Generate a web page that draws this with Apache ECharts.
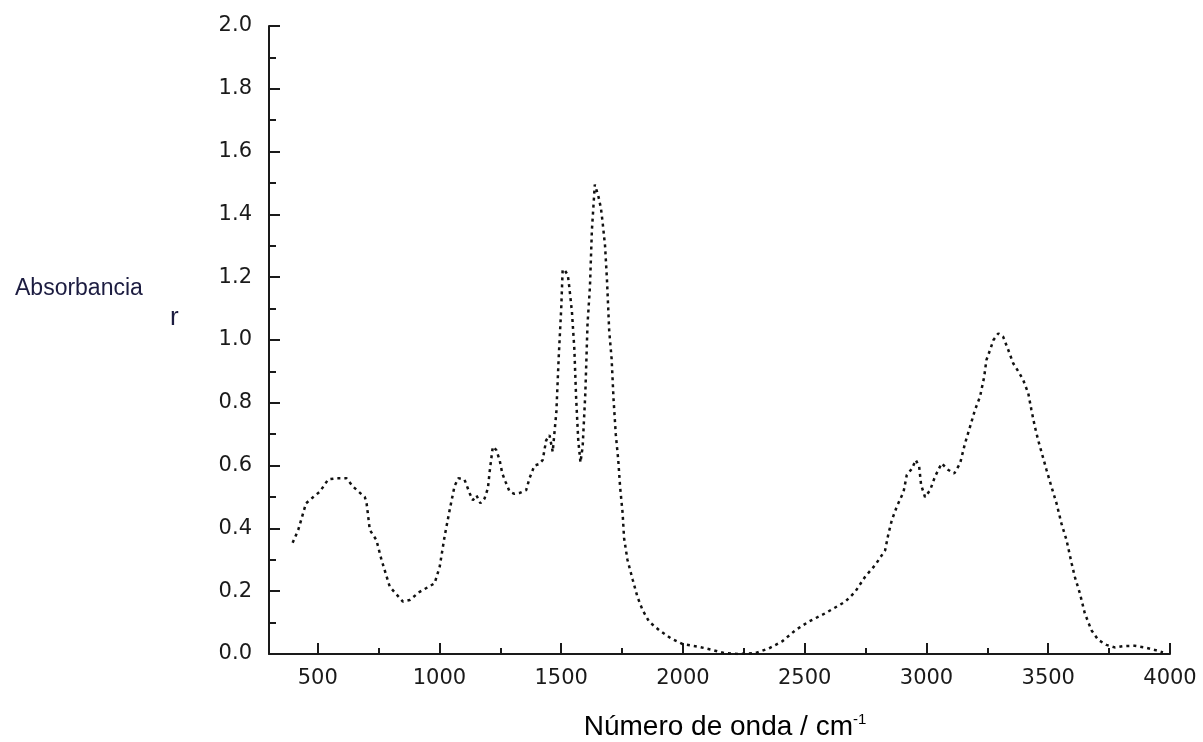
<!DOCTYPE html>
<html>
<head>
<meta charset="utf-8">
<script src="https://cdn.jsdelivr.net/npm/echarts@6/dist/echarts.min.js"></script>
<style>
  html, body { margin: 0; padding: 0; background: #fff; }
  #chart { width: 1203px; height: 742px; }
</style>
</head>
<body>
<div id="chart"></div>
<script>
// espectro IR
const wavenumber = [
  397, 420, 452, 482, 509, 543, 580, 618, 645, 693, 700, 714, 741, 762, 796, 850, 878, 919, 980,
  1001, 1021, 1042, 1062, 1078, 1103, 1124, 1137, 1152, 1168, 1185, 1199, 1206, 1219, 1233, 1247,
  1258, 1271, 1288, 1308, 1330, 1356, 1370, 1390, 1410, 1424, 1438, 1452, 1465, 1472, 1480, 1490,
  1500, 1506, 1516, 1527, 1533, 1544, 1554, 1561, 1570, 1579, 1588, 1599, 1608, 1618, 1626, 1638,
  1645, 1652, 1663, 1670, 1680, 1688, 1697, 1707, 1715, 1724, 1734, 1742, 1752, 1758, 1772, 1793,
  1813, 1834, 1861, 1902, 1950, 1997, 2066, 2121, 2168, 2230, 2298, 2353, 2407, 2462, 2516, 2585,
  2667, 2707, 2748, 2789, 2830, 2844, 2858, 2878, 2906, 2919, 2940, 2956, 2970, 2978, 2994, 3015,
  3035, 3062, 3090, 3114, 3138, 3158, 3179, 3199, 3220, 3237, 3246, 3261, 3275, 3295, 3315, 3336,
  3356, 3377, 3397, 3418, 3431, 3445, 3459, 3472, 3493, 3513, 3534, 3554, 3575, 3596, 3609, 3630,
  3650, 3677, 3705, 3739, 3773, 3807, 3855, 3896, 3937, 3971
];
const absorbance = [
  0.354, 0.395, 0.48, 0.50, 0.517, 0.556, 0.56, 0.56, 0.533, 0.50, 0.485, 0.395, 0.363, 0.30, 0.214, 0.167, 0.172, 0.198, 0.225,
  0.278, 0.374, 0.459, 0.535, 0.56, 0.555, 0.512, 0.49, 0.505, 0.48, 0.495, 0.528, 0.58, 0.66, 0.65, 0.618,
  0.575, 0.549, 0.517, 0.51, 0.513, 0.522, 0.56, 0.60, 0.605, 0.618, 0.68, 0.697, 0.644, 0.65, 0.77, 0.95,
  1.10, 1.225, 1.22, 1.207, 1.17, 1.09, 0.97, 0.82, 0.68, 0.61, 0.66, 0.83, 1.05, 1.17, 1.35, 1.495,
  1.49, 1.46, 1.42, 1.375, 1.30, 1.19, 1.03, 0.94, 0.81, 0.70, 0.62, 0.53, 0.45, 0.37, 0.30, 0.238,
  0.182, 0.14, 0.103, 0.076, 0.05, 0.032, 0.023, 0.013, 0.003, 0.0, 0.003, 0.018, 0.04, 0.076, 0.103, 0.13,
  0.167, 0.198, 0.246, 0.283, 0.33, 0.384, 0.427, 0.469, 0.517, 0.57, 0.59, 0.618, 0.596, 0.538, 0.50, 0.522,
  0.565, 0.607, 0.586, 0.575, 0.607, 0.67, 0.724, 0.777, 0.82, 0.883, 0.936, 0.968, 1.0, 1.021, 1.01, 0.968,
  0.926, 0.9, 0.873, 0.83, 0.777, 0.724, 0.68, 0.644, 0.586, 0.533, 0.48, 0.416, 0.363, 0.289, 0.246, 0.193,
  0.13, 0.076, 0.045, 0.029, 0.021, 0.025, 0.026, 0.021, 0.013, 0.005
];

// marcas de los ejes
const xMajorTicks = [500, 1000, 1500, 2000, 2500, 3000, 3500, 4000];
const xMinorTicks = [750, 1250, 1750, 2250, 2750, 3250, 3750];

const ink = '#1a1a1a';
const labelFont = 'DejaVu Sans';

const chart = echarts.init(document.getElementById('chart'));

const option = {
  animation: false,
  backgroundColor: '#fff',
  grid: { left: 269, right: 33, top: 26, bottom: 88 },
  xAxis: [
    {
      type: 'value',
      min: 300,
      max: 4000,
      axisLine: { show: true, lineStyle: { color: ink, width: 2 } },
      axisTick: { show: true, inside: true, length: 11, customValues: xMajorTicks, lineStyle: { color: ink, width: 2 } },
      axisLabel: {
        show: true, customValues: xMajorTicks, margin: 14, color: '#1a1a1a',
        fontFamily: labelFont, fontSize: 21, formatter: v => String(v)
      },
      splitLine: { show: false }
    },
    {
      type: 'value',
      min: 300,
      max: 4000,
      position: 'bottom',
      axisLine: { show: false },
      axisTick: { show: true, inside: true, length: 6, customValues: xMinorTicks, lineStyle: { color: ink, width: 2 } },
      axisLabel: { show: false },
      splitLine: { show: false }
    }
  ],
  yAxis: {
    type: 'value',
    min: 0,
    max: 2,
    interval: 0.2,
    axisLine: { show: true, lineStyle: { color: ink, width: 2 } },
    axisTick: { show: true, inside: true, length: 11, lineStyle: { color: ink, width: 2 } },
    minorTick: { show: true, splitNumber: 2, length: 7, lineStyle: { color: ink, width: 2 } },
    axisLabel: {
      margin: 17, color: '#1a1a1a', fontFamily: labelFont, fontSize: 21,
      formatter: v => v.toFixed(1)
    },
    splitLine: { show: false },
    minorSplitLine: { show: false }
  },
  graphic: [
    {
      type: 'text', x: 15, y: 289,
      style: { text: 'Absorbancia', fill: '#1c1c40', font: '23px "Liberation Sans"', align: 'left', verticalAlign: 'middle' }
    },
    {
      type: 'text', x: 170, y: 318,
      style: { text: 'r', fill: '#1c1c40', font: '26px "Liberation Sans"', align: 'left', verticalAlign: 'middle' }
    },
    {
      type: 'text', x: 725, y: 727,
      style: {
        text: '{a|Número de onda / cm}{b|-1}',
        align: 'center', verticalAlign: 'middle',
        rich: {
          a: { fontFamily: 'Liberation Sans', fontSize: 28, color: '#1c1c40', lineHeight: 30 },
          b: { fontFamily: 'Liberation Sans', fontSize: 15, color: '#1c1c40', verticalAlign: 'top', lineHeight: 16 }
        }
      }
    }
  ],
  series: [
    {
      type: 'line',
      xAxisIndex: 0,
      data: wavenumber.map((w, i) => [w, absorbance[i]]),
      showSymbol: false,
      lineStyle: { color: '#111', width: 2.5, type: [3, 4] }
    }
  ]
};

chart.setOption(option);
</script>
</body>
</html>
